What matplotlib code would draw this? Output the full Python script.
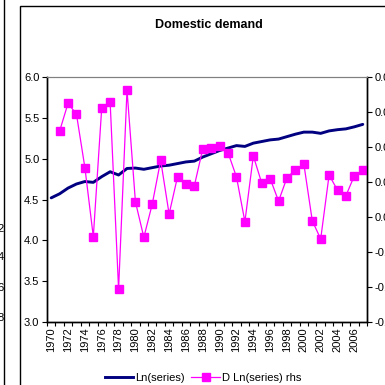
import matplotlib
matplotlib.use("Agg")
import matplotlib.pyplot as plt
from matplotlib.patches import Rectangle
from matplotlib.lines import Line2D
from matplotlib.ticker import FixedLocator, NullFormatter

plt.rcParams['font.family'] = ['Liberation Sans', 'DejaVu Sans']

years = list(range(1970, 2008))

ln_series = [4.52, 4.57, 4.64, 4.69, 4.72, 4.71, 4.78, 4.84, 4.80, 4.88,
             4.885, 4.87, 4.89, 4.91, 4.92, 4.94, 4.96, 4.97, 5.02, 5.06,
             5.10, 5.13, 5.16, 5.15, 5.19, 5.21, 5.23, 5.24, 5.27, 5.30,
             5.325, 5.325, 5.31, 5.34, 5.355, 5.365, 5.39, 5.42]

d_years = list(range(1971, 2008))
d_ln_series = [0.0491, 0.0650, 0.0587, 0.0282, -0.0113, 0.0625, 0.0655, -0.0413,
               0.0726, 0.0087, -0.0116, 0.0074, 0.0324, 0.0017, 0.0230, 0.0187,
               0.0179, 0.0390, 0.0396, 0.0407, 0.0367, 0.0229, -0.0027, 0.0349,
               0.0194, 0.0219, 0.0091, 0.0225, 0.0270, 0.0303, -0.0021, -0.0126,
               0.0240, 0.0153, 0.0122, 0.0236, 0.0267]

left_ticks = [3.0, 3.5, 4.0, 4.5, 5.0, 5.5, 6.0]
right_ticks = [-0.06, -0.04, -0.02, 0.00, 0.02, 0.04, 0.06, 0.08]
label_years = list(range(1970, 2007, 2))

W = H = 385
FS = 8
fig = plt.figure(figsize=(W / 100, H / 100), dpi=100)

def fx(px):
    return px / W

def fy(py):
    return 1 - py / H

# outer chart frame and the edge of the neighbouring chart
fig.patches.append(Rectangle((fx(20), fy(400)), fx(420), fy(6) - fy(400),
                             transform=fig.transFigure, fill=False,
                             edgecolor='black', linewidth=1.0))
fig.add_artist(Line2D([fx(4), fx(4)], [0, 1], transform=fig.transFigure,
                      color='black', linewidth=1.0))
for py, s in zip([229, 257, 288, 318], ['2', '4', '6', '8']):
    fig.text(fx(3.5), fy(py), s, ha='right', va='center', fontsize=FS)

ax = fig.add_axes([fx(47), fy(322), fx(367) - fx(47), fy(77) - fy(322)])
idx = {y: i for i, y in enumerate(years)}
x_ln = [idx[y] for y in years]
x_d = [idx[y] for y in d_years]

ax.plot(x_ln, ln_series, color='#000080', linewidth=2.1, solid_capstyle='round')
ax.set_ylim(3.0, 6.0)
ax.set_xlim(-0.5, len(years) - 0.5)
ax.set_yticks(left_ticks)
ax.set_yticklabels([f"{v:.1f}" for v in left_ticks], fontsize=FS)

# category axis: tick marks between categories, labels on every other year
ax.xaxis.set_major_locator(FixedLocator([i - 0.5 for i in range(len(years) + 1)]))
ax.xaxis.set_major_formatter(NullFormatter())
ax.xaxis.set_minor_locator(FixedLocator([idx[y] for y in label_years]))
ax.set_xticklabels([str(y) for y in label_years], minor=True, rotation=90, fontsize=FS)
ax.tick_params(axis='x', which='major', direction='out', length=3, width=0.8)
ax.tick_params(axis='x', which='minor', length=0, pad=4)
ax.tick_params(axis='y', direction='out', length=3.5, width=0.8, pad=2)

ax2 = ax.twinx()
ax2.plot(x_d, d_ln_series, color='#FF00FF', linewidth=0.9,
         marker='s', markersize=5.2, markerfacecolor='#FF00FF', markeredgecolor='#FF00FF')
ax2.set_ylim(-0.06, 0.08)
ax2.set_yticks(right_ticks)
ax2.set_yticklabels([f"{v:.2f}" for v in right_ticks], fontsize=FS)
ax2.tick_params(axis='y', direction='out', length=3.5, width=0.8, pad=2)

for a in (ax, ax2):
    a.spines['top'].set_color('#808080')
    a.spines['top'].set_linewidth(0.8)
    for s in ('left', 'right', 'bottom'):
        a.spines[s].set_color('black')
        a.spines[s].set_linewidth(1.0)

fig.text(fx(209), fy(25), 'Domestic demand', ha='center', va='center',
         fontsize=9, fontweight='bold')

handles = [Line2D([], [], color='#000080', linewidth=2.1),
           Line2D([], [], color='#FF00FF', linewidth=0.9, marker='s',
                  markersize=5.2)]
fig.legend(handles, ['Ln(series)', 'D Ln(series) rhs'], loc='center',
           bbox_to_anchor=(fx(203), fy(378)), ncol=2, frameon=False,
           fontsize=FS, handlelength=2.6, handletextpad=0.15, columnspacing=0.6,
           borderpad=0)

fig.savefig('out.png', dpi=100)
